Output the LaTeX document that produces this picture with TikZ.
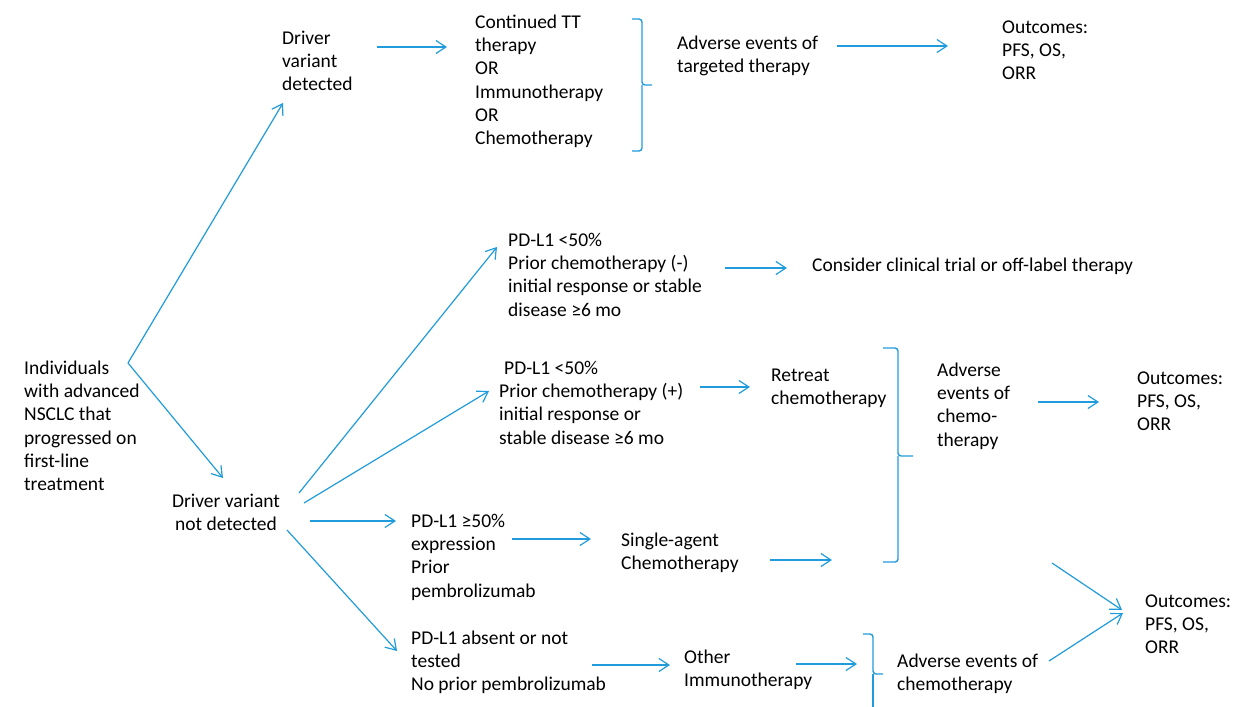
\documentclass[tikz,border=0pt]{standalone}
\usepackage{fontspec}
\setmainfont{Carlito}
\usetikzlibrary{arrows.meta}
\definecolor{ablue}{RGB}{32,155,220}
\begin{document}
\begin{tikzpicture}[x=1pt,y=-1pt,
  txt/.style={anchor=north west, inner sep=0pt, align=left, font=\fontsize{19.5}{23.3}\selectfont},
  conn/.style={draw=ablue, line width=1.2pt, -{Straight Barb[length=10pt,width=13pt]}},
  plain/.style={draw=ablue, line width=1.2pt},
  bracestyle/.style={draw=ablue, line width=1.4pt, rounded corners=3pt}]
\useasboundingbox (0,0) rectangle (1248,707);
\clip (0,0) rectangle (1248,707);

% text nodes
\node[txt] (ind) at (24,357.7) {\strut Individuals\\with advanced\\NSCLC that\\progressed on\\first-line\\treatment};
\node[txt] (dvd) at (282,27.7) {\strut Driver\\variant\\detected};
\node[txt] (cont) at (475,11.7) {\strut Continued TT\\therapy\\OR\\Immunotherapy\\OR\\Chemotherapy};
\node[txt] (aett) at (677,32.7) {\strut Adverse events of\\targeted therapy};
\node[txt] (out1) at (1002,16.7) {\strut Outcomes:\\PFS, OS,\\ORR};
\node[txt, anchor=north, align=center] (dvnd) at (226,490.7) {\strut Driver variant\\not detected};
\node[txt] (pdm) at (508,229.7) {\strut PD-L1 <50\%\\Prior chemotherapy (-)\\initial response or stable\\disease ≥6 mo};
\node[txt] (cons) at (812,254.7) {\strut Consider clinical trial or off-label therapy};
\node[txt] (pdp) at (499,357.7) {\strut\hspace{5pt}PD-L1 <50\%\\Prior chemotherapy (+)\\initial response or\\stable disease ≥6 mo};
\node[txt] (ret) at (771,364.7) {\strut Retreat\\chemotherapy};
\node[txt] (aec) at (937,359.7) {\strut Adverse\\events of\\chemo-\\therapy};
\node[txt] (out2) at (1137,367.7) {\strut Outcomes:\\PFS, OS,\\ORR};
\node[txt] (pd50) at (411,510.7) {\strut PD-L1 ≥50\%\\expression\\Prior\\pembrolizumab};
\node[txt] (single) at (621,529.7) {\strut Single-agent\\Chemotherapy};
\node[txt] (pdabs) at (411,627.7) {\strut PD-L1 absent or not\\tested\\No prior pembrolizumab};
\node[txt] (other) at (684,646.7) {\strut Other\\Immunotherapy};
\node[txt] (aec2) at (897,650.7) {\strut Adverse events of\\chemotherapy};
\node[txt] (out3) at (1145,590.7) {\strut Outcomes:\\PFS, OS,\\ORR};

% connector end points
\coordinate (br) at (128,363);
\coordinate (dvdin) at (283,103);
\coordinate (dvndin) at (223,478);
\coordinate (dvdout) at (377,47);
\coordinate (contin) at (447,47);
\coordinate (aettout) at (837,46);
\coordinate (out1in) at (948,46);
\coordinate (dvnda) at (299,493);
\coordinate (pdmin) at (497,247);
\coordinate (dvndb) at (304,503);
\coordinate (pdpin) at (489,391);
\coordinate (dvndc) at (310,521);
\coordinate (pd50in) at (396,521);
\coordinate (dvndd) at (287,530);
\coordinate (pdabsin) at (397,651);
\coordinate (pdmout) at (725,268);
\coordinate (consin) at (787,268);
\coordinate (pdpout) at (700,387);
\coordinate (retin) at (750,387);
\coordinate (pd50out) at (512,539);
\coordinate (singlein) at (591,539);
\coordinate (singleout) at (770,560);
\coordinate (braceBin) at (832,560);
\coordinate (pdabsout) at (592,665);
\coordinate (otherin) at (670,665);
\coordinate (otherout) at (796,664);
\coordinate (braceCin) at (857,664);
\coordinate (aecout) at (1038,402);
\coordinate (out2in) at (1099,402);
\coordinate (aecb) at (1052,563);
\coordinate (out3ina) at (1122,610);
\coordinate (aec2out) at (1049,661);
\coordinate (out3inb) at (1123,613);

% connectors
\draw[conn] (br) -- (dvdin);
\draw[conn] (br) -- (dvndin);
\draw[conn] (dvdout) -- (contin);
\draw[conn] (aettout) -- (out1in);
\draw[conn] (dvnda) -- (pdmin);
\draw[conn] (dvndb) -- (pdpin);
\draw[conn] (dvndc) -- (pd50in);
\draw[conn] (dvndd) -- (pdabsin);
\draw[conn] (pdmout) -- (consin);
\draw[conn] (pdpout) -- (retin);
\draw[conn] (pd50out) -- (singlein);
\draw[conn] (singleout) -- (braceBin);
\draw[conn] (pdabsout) -- (otherin);
\draw[conn] (otherout) -- (braceCin);
\draw[conn] (aecout) -- (out2in);
\draw[conn] (aecb) -- (out3ina);
\draw[conn] (aec2out) -- (out3inb);

% braces
\draw[bracestyle] (632,19) -- (642,19) -- (642,85) -- (652,85);
\draw[bracestyle] (642,85) -- (642,151) -- (632,151);
\draw[bracestyle] (883,348) -- (898,348) -- (898,456) -- (913,456);
\draw[bracestyle] (898,456) -- (898,562) -- (883,562);
\draw[bracestyle] (863,634) -- (873,634) -- (873,674) -- (883,674);
\draw[bracestyle] (873,674) -- (873,712);
\end{tikzpicture}
\end{document}
